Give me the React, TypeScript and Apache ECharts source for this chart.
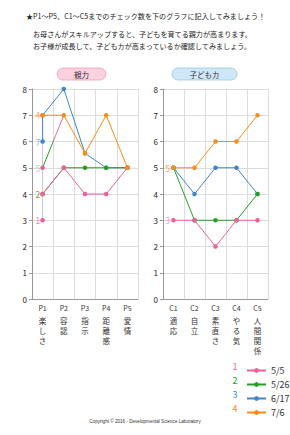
import React, { useEffect, useRef } from "react";
import * as echarts from "echarts";

// Categories and their vertical captions
const leftCats = ["P1", "P2", "P3", "P4", "P5"];
const leftNames = ["楽しさ", "容認", "指示", "距離感", "愛情"];
const rightCats = ["C1", "C2", "C3", "C4", "C5"];
const rightNames = ["適応", "自立", "素直さ", "やる気", "人間関係"];

// Check dates (legend)
const dates = ["5/5", "5/26", "6/17", "7/6"];
const dateNums = ["1", "2", "3", "4"];

// 親力 scores: each entry is a list of connected [categoryIndex, value] runs
const leftPink: [number, number][][] = [
  [[0, 3]],
  [[0, 5]],
  [[0, 4], [1, 5], [2, 4], [3, 4], [4, 5]],
];
const leftGreen: [number, number][][] = [
  [[0, 4], [1, 5], [2, 5], [3, 5], [4, 5]],
];
const leftCross: [number, number][] = [[0, 5], [1, 7]];
const leftBlue: [number, number][][] = [
  [[0, 6], [0, 7], [1, 8], [2, 5.55], [3, 5], [4, 5]],
];
const leftOrange: [number, number][][] = [
  [[0, 7], [1, 7], [2, 5.55], [3, 7], [4, 5]],
];
const leftGuide: [number, number][] = [[0, 3], [0, 7]];

// 子ども力 scores
const rightPink = [3, 3, 2, 3, 3];
const rightGreen = [5, 3, 3, 3, 4];
const rightBlue = [5, 4, 5, 5, 4];
const rightOrange = [5, 5, 6, 6, 7];

// Small markers written beside the first column
const leftTagValues = [7, 6, 5, 4, 3];
const leftTagTexts = ["4", "7", "5", "2", "1"];
const rightTagValues = [5, 3];
const rightTagTexts = ["5", "3"];

const yTicks = [0, 1, 2, 3, 4, 5, 6, 7, 8];

const PINK = "#ef5f9a";
const GREEN = "#23a027";
const BLUE = "#3f86c8";
const ORANGE = "#ff8a14";
const seriesColors = [PINK, GREEN, BLUE, ORANGE];
const leftTagColors = [ORANGE, "#6b9bd6", "#a6c9a0", "#8b6c1e", PINK];
const rightTagColors = [ORANGE, "#f27fab"];

const FONT = "'Noto Sans CJK JP', 'Noto Sans', sans-serif";

export default function App() {
  const ref = useRef<HTMLDivElement>(null);

  useEffect(() => {
    if (!ref.current) return;
    const chart = echarts.init(ref.current, undefined, { renderer: "svg" });

    const xAxisFor = (cats: string[], names: string[], gridIndex: number) => ({
      type: "category" as const,
      gridIndex,
      data: cats,
      boundaryGap: true,
      axisLine: { lineStyle: { color: "#999", width: 1 } },
      axisTick: { show: false },
      splitLine: { show: true, lineStyle: { color: "#dcdcdc", width: 1 } },
      axisLabel: {
        interval: 0,
        margin: 4,
        formatter: (v: string) => {
          const i = cats.indexOf(v);
          const chars = Array.from(names[i]);
          return `{c|${v}}\n{g|}\n` + chars.map((ch) => `{t|${ch}}`).join("\n");
        },
        rich: {
          c: { fontSize: 7, lineHeight: 10, color: "#333", fontFamily: FONT },
          g: { fontSize: 2, lineHeight: 3 },
          t: { fontSize: 7.5, lineHeight: 9.8, color: "#333", fontFamily: FONT },
        },
      },
    });

    const yAxisFor = (gridIndex: number) => ({
      type: "value" as const,
      gridIndex,
      min: 0,
      max: 8,
      interval: 1,
      axisLine: { show: true, lineStyle: { color: "#999", width: 1 } },
      axisTick: { show: true, length: 3, lineStyle: { color: "#999" } },
      splitLine: { show: true, lineStyle: { color: "#dcdcdc", width: 1 } },
      axisLabel: {
        margin: 5,
        fontSize: 8,
        color: "#222",
        fontFamily: FONT,
        formatter: (v: number) => (yTicks.includes(v) ? String(v) : ""),
      },
    });

    const lineSeries = (
      name: string,
      color: string,
      data: [number, number][],
      axis: number
    ) => ({
      type: "line" as const,
      name,
      xAxisIndex: axis,
      yAxisIndex: axis,
      data,
      color,
      symbol: "circle",
      symbolSize: 4.5,
      showSymbol: true,
      lineStyle: { width: 1, color },
      itemStyle: { color },
      emphasis: { disabled: true },
    });

    const series: any[] = [];

    // guide stroke at the first column
    series.push({
      type: "line",
      xAxisIndex: 0,
      yAxisIndex: 0,
      data: leftGuide,
      symbol: "none",
      lineStyle: { width: 1, color: "#c8c8c8" },
      silent: true,
    });

    const leftSets = [leftBlue, leftGreen, leftPink, leftOrange];
    const drawOrder = [2, 1, 0, 3];
    leftSets.forEach((runs, k) => {
      const si = drawOrder[k];
      runs.forEach((run) =>
        series.push(lineSeries(dates[si], seriesColors[si], run, 0))
      );
      if (si === 1) {
        series.push({
          type: "line",
          name: dates[1],
          xAxisIndex: 0,
          yAxisIndex: 0,
          data: leftCross,
          symbol: "none",
          lineStyle: {
            width: 1,
            color: new echarts.graphic.LinearGradient(0, 1, 1, 0, [
              { offset: 0, color: GREEN },
              { offset: 0.45, color: GREEN },
              { offset: 0.6, color: "#e06fa0" },
              { offset: 1, color: PINK },
            ]),
          },
          silent: true,
        });
      }
    });

    const rightSets = [rightBlue, rightGreen, rightPink, rightOrange];
    rightSets.forEach((vals, k) => {
      const si = drawOrder[k];
      series.push(
        lineSeries(
          dates[si],
          seriesColors[si],
          vals.map((v, i) => [i, v] as [number, number]),
          1
        )
      );
    });

    // legend entries in order 5/5, 5/26, 6/17, 7/6
    const legendSeries = dates.map((d, i) => ({
      type: "line",
      name: d,
      xAxisIndex: 0,
      yAxisIndex: 0,
      data: [],
      color: seriesColors[i],
      symbol: "circle",
      symbolSize: 4,
      lineStyle: { width: 1, color: seriesColors[i] },
      itemStyle: { color: seriesColors[i] },
    }));

    const tagSeries = (
      values: number[],
      texts: string[],
      colors: string[],
      axis: number,
      distance: number
    ) => ({
      type: "scatter",
      xAxisIndex: axis,
      yAxisIndex: axis,
      symbolSize: 1,
      itemStyle: { color: "transparent" },
      silent: true,
      z: 5,
      data: values.map((v, i) => ({
        value: [0, v],
        label: {
          show: true,
          position: "left",
          distance,
          formatter: texts[i],
          color: colors[i],
          fontSize: 8.5,
          fontFamily: FONT,
        },
      })),
    });

    series.push(tagSeries(leftTagValues, leftTagTexts, leftTagColors, 0, 2));
    series.push(tagSeries(rightTagValues, rightTagTexts, rightTagColors, 1, 3));

    const header = [
      { x: 26, y: 16, text: "★P1～P5、C1～C5までのチェック数を下のグラフに記入してみましょう！" },
      { x: 33, y: 34, text: "お母さんがスキルアップすると、子どもを育てる親力が高まります。" },
      { x: 33, y: 46, text: "お子様が成長して、子どもカが高まっているか確認してみましょう。" },
    ];

    const graphic: any[] = [
      ...header.map((h) => ({
        type: "text",
        x: h.x,
        y: h.y,
        style: {
          text: h.text,
          fontSize: 7.1,
          fill: "#222",
          fontFamily: FONT,
          verticalAlign: "middle",
        },
      })),
      {
        type: "rect",
        shape: { x: 57, y: 68, width: 49, height: 12, r: 6 },
        style: { fill: "#fbd0df", stroke: "#e7a3bb", lineWidth: 0.8 },
      },
      {
        type: "text",
        x: 81.5,
        y: 74,
        style: {
          text: "親力",
          fontSize: 7.5,
          fill: "#333",
          fontFamily: FONT,
          align: "center",
          verticalAlign: "middle",
        },
      },
      {
        type: "rect",
        shape: { x: 172, y: 68, width: 65, height: 12, r: 6 },
        style: { fill: "#cfe7f7", stroke: "#9ec6de", lineWidth: 0.8 },
      },
      {
        type: "text",
        x: 204.5,
        y: 74,
        style: {
          text: "子どもカ",
          fontSize: 7.5,
          fill: "#333",
          fontFamily: FONT,
          align: "center",
          verticalAlign: "middle",
        },
      },
      ...dateNums.map((n, i) => ({
        type: "text",
        x: 235,
        y: 366.5 + i * 14,
        style: {
          text: n,
          fontSize: 9,
          fill: seriesColors[i],
          fontFamily: FONT,
          align: "center",
          verticalAlign: "middle",
        },
      })),
      {
        type: "text",
        x: 145,
        y: 421,
        style: {
          text: "Copyright © 2016 - Developmental Science Laboratory",
          fontSize: 4.6,
          fill: "#333",
          fontFamily: "'Liberation Sans', Arial, sans-serif",
          align: "center",
          verticalAlign: "middle",
        },
      },
    ];

    chart.setOption({
      animation: false,
      backgroundColor: "#ffffff",
      textStyle: { fontFamily: FONT },
      grid: [
        { left: 32, top: 89, width: 106, height: 210 },
        { left: 163, top: 89, width: 105, height: 210 },
      ],
      xAxis: [xAxisFor(leftCats, leftNames, 0), xAxisFor(rightCats, rightNames, 1)],
      yAxis: [yAxisFor(0), yAxisFor(1)],
      legend: {
        data: dates,
        orient: "vertical",
        left: 241,
        top: 361,
        itemWidth: 19,
        itemHeight: 6,
        itemGap: 5,
        selectedMode: false,
        textStyle: { fontSize: 9, color: "#333", lineHeight: 9, fontFamily: FONT },
      },
      series: [...legendSeries, ...series],
      graphic,
    });

    return () => chart.dispose();
  }, []);

  return (
    <div
      ref={ref}
      style={{ position: "fixed", left: 0, top: 0, width: 290, height: 435, background: "#fff" }}
    />
  );
}
